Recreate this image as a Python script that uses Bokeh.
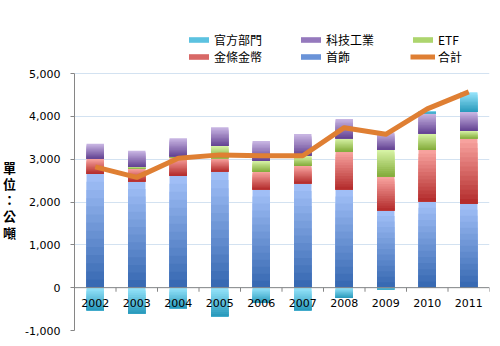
import numpy as np
from bokeh.plotting import figure
from bokeh.models import (ColumnDataSource, Range1d, FixedTicker,
                          NumeralTickFormatter, Legend, LegendItem, Span)
from bokeh.embed import file_html
from bokeh.resources import INLINE
from bokeh.core.properties import value

# ---- data (tonnes) ----
years = ["2002", "2003", "2004", "2005", "2006", "2007", "2008", "2009", "2010", "2011"]
jewelry = [2660, 2480, 2610, 2710, 2290, 2430, 2290, 1800, 2010, 1960]      # 首飾
coin = [350, 295, 425, 310, 415, 410, 885, 790, 1205, 1520]                 # 金條金幣
etf = [0, 45, 30, 285, 255, 240, 310, 630, 380, 180]                        # ETF
tech = [350, 375, 425, 440, 465, 505, 455, 405, 475, 440]                   # 科技工業
official = [-530, -605, -480, -665, -360, -530, -240, -35, 55, 465]         # 官方部門
total = [2820, 2575, 3020, 3100, 3080, 3080, 3735, 3580, 4175, 4570]        # 合計
y_ticks = [-1000, 0, 1000, 2000, 3000, 4000, 5000]

series_labels = ["首飾", "金條金幣", "ETF", "科技工業", "官方部門"]
series_values = [jewelry, coin, etf, tech, official]
# (dark bottom, light top)
series_colors = [("#386ab3", "#a0bef6"),
                 ("#b52e2e", "#f7a29e"),
                 ("#85ad3c", "#d6f2a4"),
                 ("#664594", "#c7b4e2"),
                 ("#2b9bbd", "#94e3fa")]
legend_colors = ["#6a93d8", "#d86866", "#add56e", "#9579bd", "#5cc2e0"]
line_color = "#df7f33"

N = 14
bar_w = 0.42


def hex2rgb(h):
    h = h.lstrip("#")
    return np.array([int(h[i:i + 2], 16) for i in (0, 2, 4)], dtype=float)


def lerp(c1, c2, t):
    a, b = hex2rgb(c1), hex2rgb(c2)
    c = a + (b - a) * t
    return "#%02x%02x%02x" % tuple(int(round(v)) for v in c)


L, R, B, T, C = [], [], [], [], []
for i in range(len(years)):
    pos, neg = 0.0, 0.0
    for vals, (dark, light) in zip(series_values, series_colors):
        v = vals[i]
        if v == 0:
            continue
        if v > 0:
            b, t = pos, pos + v
            pos = t
        else:
            b, t = neg + v, neg
            neg = b
        for k in reversed(range(N)):
            L.append(i + 0.5 - bar_w / 2)
            R.append(i + 0.5 + bar_w / 2)
            B.append(b)
            T.append(b + (t - b) * (k + 1) / N)
            C.append(lerp(dark, light, k / (N - 1)))

src = ColumnDataSource(dict(left=L, right=R, bottom=B, top=T, color=C))

# layout: axis area is 257 px tall for the -1000..5000 span; frame extends
# 53 px above it so that the legend can sit inside the frame
ymin, ymax = y_ticks[0], y_ticks[-1]
px_per_unit = 257 / (ymax - ymin)
extra_px = 53
y_end = ymax + extra_px / px_per_unit

p = figure(width=500, height=346, output_backend="svg", toolbar_location=None,
           x_range=Range1d(0, len(years)), y_range=Range1d(ymin, y_end),
           x_axis_location=None, min_border_left=74, min_border_right=11,
           min_border_top=20, min_border_bottom=16)
p.outline_line_color = None
p.background_fill_color = "white"
p.border_fill_color = "white"

# grid
p.xgrid.visible = False
p.ygrid.grid_line_color = "#d3e2f1"
p.ygrid.grid_line_width = 1

# y axis
ax = p.yaxis[0]
ax.ticker = FixedTicker(ticks=y_ticks)
ax.bounds = (ymin, ymax)
ax.formatter = NumeralTickFormatter(format="0,0")
ax.axis_line_color = "#868686"
ax.major_tick_line_color = "#868686"
ax.major_tick_out = 4
ax.major_tick_in = 0
ax.minor_tick_line_color = None
ax.major_label_standoff = 10
ax.major_label_text_font = "DejaVu Sans"
ax.major_label_text_font_size = "11px"
ax.major_label_text_color = "#000000"
ax.axis_label = "\n\n\n單\n位\n：\n公\n噸"
ax.axis_label_orientation = "horizontal"
ax.axis_label_text_font = "Noto Sans CJK TC"
ax.axis_label_text_font_style = "bold"
ax.axis_label_text_font_size = "13px"
ax.axis_label_text_line_height = 0.85
ax.axis_label_text_color = "#000000"
ax.axis_label_standoff = 6

# bars
p.quad(left="left", right="right", bottom="bottom", top="top", fill_color="color",
       line_color=None, source=src)

# horizontal axis at zero
xs = [i + 0.5 for i in range(len(years))]
p.add_layout(Span(location=0, dimension="width", line_color="#868686", line_width=1))
bounds = list(range(len(years) + 1))
p.segment(x0=bounds, x1=bounds, y0=[0] * len(bounds), y1=[-95] * len(bounds),
          line_color="#868686", line_width=1)
p.text(x=xs, y=[0] * len(xs), text=years, text_align="center", text_baseline="middle",
       y_offset=15, text_font=value("DejaVu Sans"), text_font_size="11px", text_color="#000000")

# total line
line_r = p.line(x=xs, y=total, line_color=line_color, line_width=5, line_join="round")

# legend proxies (zero-area quads, invisible in the plot)
dummies = {}
for lab, col in zip(series_labels, legend_colors):
    dummies[lab] = p.quad(left=[0], right=[0], bottom=[0], top=[0],
                          fill_color=col, line_color=None)

items = [LegendItem(label="官方部門", renderers=[dummies["官方部門"]]),
         LegendItem(label="金條金幣", renderers=[dummies["金條金幣"]]),
         LegendItem(label="科技工業", renderers=[dummies["科技工業"]]),
         LegendItem(label="首飾", renderers=[dummies["首飾"]]),
         LegendItem(label="ETF", renderers=[dummies["ETF"]]),
         LegendItem(label="合計", renderers=[line_r])]
leg = Legend(items=items, location=(112, 265), ncols=3, orientation="vertical",
             glyph_width=25, glyph_height=7, label_height=17, label_width=84,
             label_standoff=3, spacing=0, padding=0, margin=0,
             label_text_font="Noto Sans CJK TC", label_text_font_size="12px",
             label_text_color="#000000", border_line_color=None,
             background_fill_alpha=0)
p.add_layout(leg, "center")

open("out.html", "w").write(file_html(p, INLINE))
